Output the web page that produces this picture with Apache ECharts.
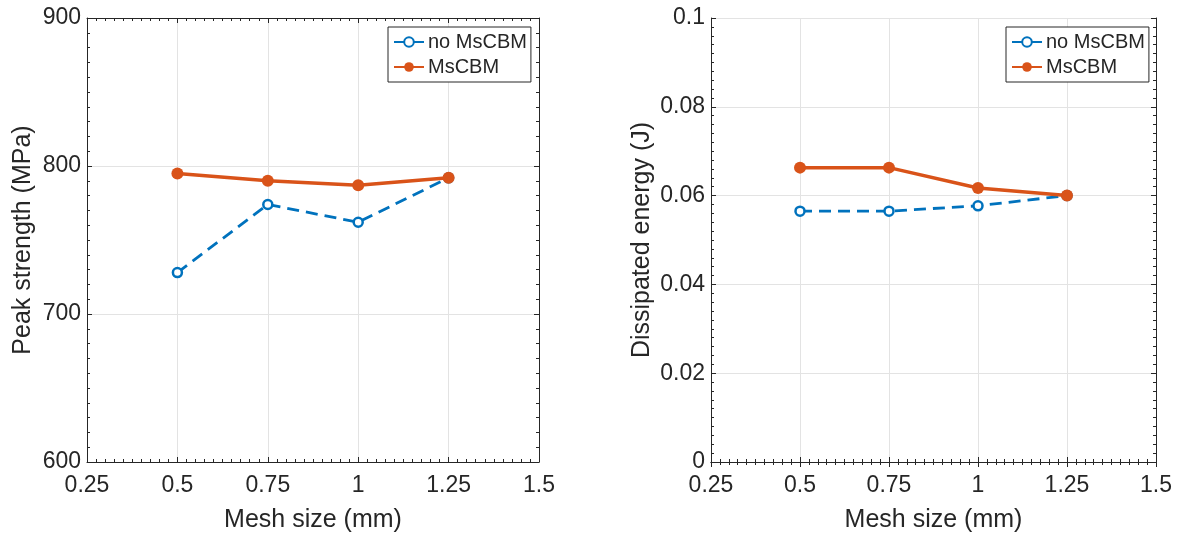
<!DOCTYPE html>
<html>
<head>
<meta charset="utf-8">
<script src="https://cdn.jsdelivr.net/npm/echarts@6/dist/echarts.min.js"></script>
<style>
html,body{margin:0;padding:0;background:#fff;}
#chart{width:1178px;height:536px;}
</style>
</head>
<body>
<div id="chart"></div>
<script>
// ---- data ----
const meshSize = [0.5, 0.75, 1, 1.25];
const strengthNoMsCBM = [728, 774, 762, 792];
const strengthMsCBM = [795, 790, 787, 792];
const energyNoMsCBM = [0.0565, 0.0565, 0.0577, 0.0600];
const energyMsCBM = [0.0663, 0.0663, 0.0617, 0.0600];
const seriesNames = ['no MsCBM', 'MsCBM'];
const xTitle = 'Mesh size (mm)';
const yTitles = ['Peak strength (MPa)', 'Dissipated energy (J)'];

const FONT = '"Liberation Sans", Arial, Helvetica, sans-serif';
const TXT = '#262626';
const BLUE = '#0072BD';
const ORANGE = '#D95319';
const GRIDC = '#e3e3e3';

const pair = (xs, ys) => xs.map((x, i) => [x, ys[i]]);

function xAxes(gi) {
  const base = {
    type: 'value', gridIndex: gi, min: 0.25, max: 1.5, interval: 0.25,
    axisLine: {show: true, lineStyle: {color: TXT, width: 1}},
    axisTick: {show: true, inside: true, length: 5, lineStyle: {color: TXT}},
    minorTick: {show: true, splitNumber: 10, length: 3, lineStyle: {color: TXT}},
  };
  return [
    Object.assign({}, base, {
      position: 'bottom',
      axisLabel: {color: TXT, fontSize: 23, fontFamily: FONT, margin: 12,
        formatter: v => String(+v.toFixed(2))},
      splitLine: {show: true, lineStyle: {color: GRIDC, width: 1}},
      name: xTitle, nameLocation: 'middle', nameGap: 46,
      nameTextStyle: {color: TXT, fontSize: 25, fontFamily: FONT}
    }),
    Object.assign({}, base, {
      position: 'top', axisLabel: {show: false}, splitLine: {show: false}
    })
  ];
}

function yAxes(gi, min, max, interval, gap, fmt) {
  const base = {
    type: 'value', gridIndex: gi, min: min, max: max, interval: interval,
    axisLine: {show: true, lineStyle: {color: TXT, width: 1}},
    axisTick: {show: true, inside: true, length: 5, lineStyle: {color: TXT}},
    minorTick: {show: true, splitNumber: 10, length: 3, lineStyle: {color: TXT}},
  };
  return [
    Object.assign({}, base, {
      position: 'left',
      axisLabel: {color: TXT, fontSize: 23, fontFamily: FONT, margin: 6, formatter: fmt},
      splitLine: {show: true, lineStyle: {color: GRIDC, width: 1}},
      name: yTitles[gi], nameLocation: 'middle', nameGap: gap,
      nameTextStyle: {color: TXT, fontSize: 25, fontFamily: FONT}
    }),
    Object.assign({}, base, {
      position: 'right', axisLabel: {show: false}, splitLine: {show: false}
    })
  ];
}

function lineSeries(gi, name, data, kind) {
  const isBlue = kind === 'blue';
  return {
    type: 'line', name: name, xAxisIndex: gi * 2, yAxisIndex: gi * 2,
    data: data, animation: false,
    symbol: 'circle',
    symbolSize: isBlue ? 9 : 12,
    showAllSymbol: true,
    z: isBlue ? 3 : 4,
    lineStyle: isBlue
      ? {color: BLUE, width: 2.8, type: [12, 7]}
      : {color: ORANGE, width: 3.5, type: 'solid'},
    itemStyle: isBlue
      ? {color: '#ffffff', borderColor: BLUE, borderWidth: 2.5}
      : {color: ORANGE, borderColor: ORANGE, borderWidth: 0},
    emphasis: {disabled: true}
  };
}

function legend(left) {
  return {
    left: left, top: 27, orient: 'vertical',
    padding: [5, 4, 5, 5], itemGap: 5, itemWidth: 30, itemHeight: 12,
    borderColor: TXT, borderWidth: 1, backgroundColor: '#fff',
    textStyle: {color: TXT, fontSize: 20, fontFamily: FONT, padding: [0, 0, 0, -1]},
    data: seriesNames,
    selectedMode: false
  };
}

const chart = echarts.init(document.getElementById('chart'), null, {renderer: 'canvas'});
const fmtStrength = v => String(v);
const fmtEnergy = v => String(+v.toFixed(2));

const ax0 = xAxes(0), ax1 = xAxes(1);
const ay0 = yAxes(0, 600, 900, 100, 51, fmtStrength);
const ay1 = yAxes(1, 0, 0.1, 0.02, 56, fmtEnergy);

const option = {
  backgroundColor: '#fff',
  animation: false,
  textStyle: {fontFamily: FONT},
  grid: [
    {left: 87, right: 1178 - 539, top: 18, bottom: 536 - 462, containLabel: false, outerBoundsMode: 'none'},
    {left: 711, right: 1178 - 1156, top: 18, bottom: 536 - 462, containLabel: false, outerBoundsMode: 'none'}
  ],
  xAxis: [ax0[0], ax0[1], ax1[0], ax1[1]],
  yAxis: [ay0[0], ay0[1], ay1[0], ay1[1]],
  legend: [legend(388), legend(1006)],
  series: [
    lineSeries(0, seriesNames[0], pair(meshSize, strengthNoMsCBM), 'blue'),
    lineSeries(0, seriesNames[1], pair(meshSize, strengthMsCBM), 'orange'),
    lineSeries(1, seriesNames[0], pair(meshSize, energyNoMsCBM), 'blue'),
    lineSeries(1, seriesNames[1], pair(meshSize, energyMsCBM), 'orange')
  ]
};
chart.setOption(option);
</script>
</body>
</html>
